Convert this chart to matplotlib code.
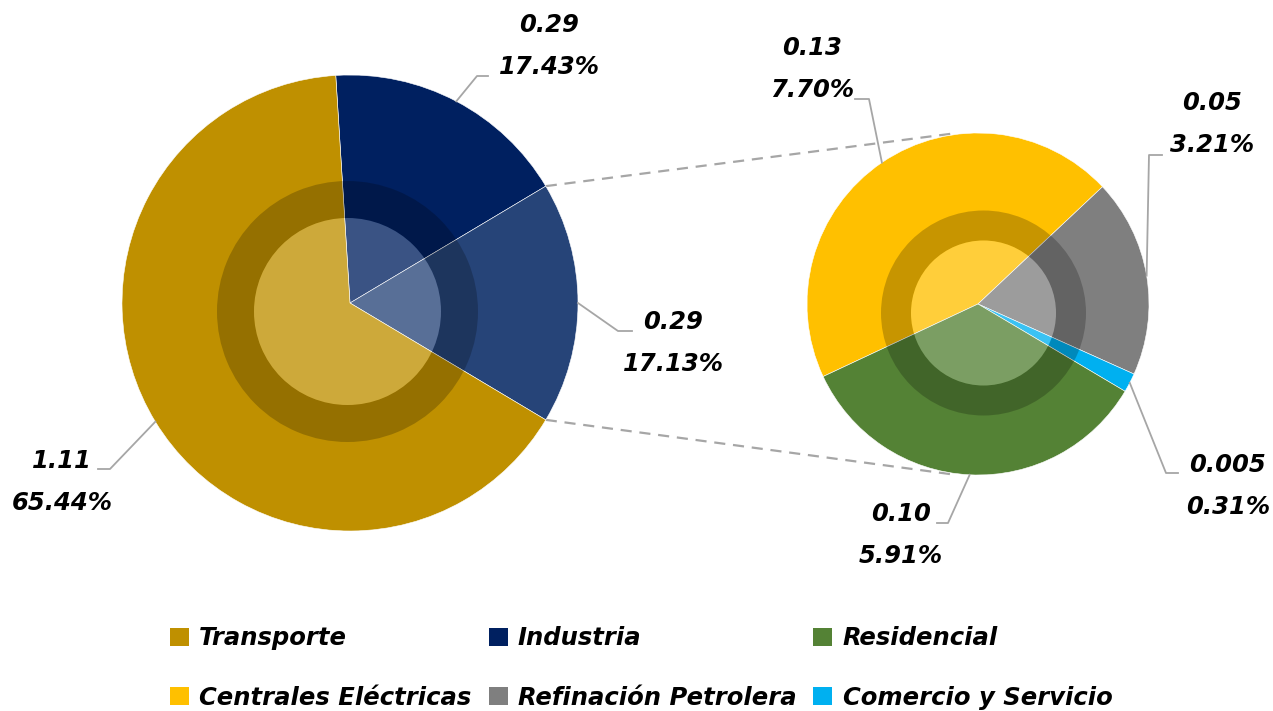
import matplotlib
matplotlib.use('Agg')
import matplotlib.pyplot as plt
import matplotlib.patches as mpatches
import numpy as np

plt.rcParams['font.family'] = 'DejaVu Sans'

# ── Data ──
main_labels = ['Transporte', 'Industria', 'Otros']
main_values = [1.11, 0.29, 0.29]
main_pct = [65.44, 17.43, 17.13]
main_colors = ['#BF9000', '#002060', '#264478']

sub_labels = ['Centrales Eléctricas', 'Refinación Petrolera', 'Comercio y Servicio', 'Residencial']
sub_values = [0.13, 0.05, 0.005, 0.10]
sub_pct = [7.70, 3.21, 0.31, 5.91]
sub_colors = ['#FFC000', '#7F7F7F', '#00B0F0', '#548235']

legend_order = ['Transporte', 'Industria', 'Residencial',
                'Centrales Eléctricas', 'Refinación Petrolera', 'Comercio y Servicio']

W, H = 1273, 711
fig = plt.figure(figsize=(W / 100, H / 100), dpi=100)
ax = fig.add_axes([0, 0, 1, 1])


def P(x, y):
    # pixel coords (top-left origin) -> data coords
    return (x, H - y)


def fmt_val(v):
    return f'{v:.3f}' if v < 0.01 else f'{v:.2f}'


line_gray = '#A6A6A6'
fs = 17.5
lbl_kw = dict(fontsize=fs, fontweight='bold', style='italic', ha='center', va='center')

# ── Left pie (Industria, Otros, Transporte clockwise, Otros centred on 0°) ──
c1, r1 = P(350, 303), 228
order1 = [1, 2, 0]
start1 = main_pct[2] / sum(main_pct) * 360 / 2 + main_pct[1] / sum(main_pct) * 360
w1, _ = ax.pie([main_pct[i] for i in order1], colors=[main_colors[i] for i in order1],
               center=c1, radius=r1, startangle=start1, counterclock=False,
               wedgeprops=dict(edgecolor='white', linewidth=0.4))

# ── Right pie ──
c2, r2 = P(978, 304), 171
w2, _ = ax.pie(sub_pct, colors=sub_colors, center=c2, radius=r2, startangle=205.1,
               counterclock=False, wedgeprops=dict(edgecolor='white', linewidth=0.4))

# bevel-ish overlays
for cen, ro, ri in [(P(347.5, 311.5), 130.5, 93.5), (P(983.5, 313), 102.5, 72.5)]:
    ax.add_patch(mpatches.Wedge(cen, ro, 0, 360, width=ro - ri, facecolor='black',
                                alpha=0.22, edgecolor='none'))
    ax.add_patch(mpatches.Circle(cen, ri, facecolor='white', alpha=0.23, edgecolor='none'))

# ── Connector lines between pies ──
t_other = np.deg2rad([w1[1].theta2, w1[1].theta1])   # upper edge, lower edge
for t, yy in zip(t_other, [c2[1] + r2, c2[1] - r2]):
    x0 = c1[0] + r1 * np.cos(t)
    y0 = c1[1] + r1 * np.sin(t)
    ax.plot([x0, 957], [y0, yy], color=line_gray, lw=1.6, dashes=(5, 3.5), zorder=0)

# ── Data labels with leader lines ──
# (wedge, centre, radius, elbow px, end px, label centre px, value, pct)
labels_cfg = [
    (w1[0], c1, r1, (477, 76), (488, 76), (549, 46), main_values[1], main_pct[1]),
    (w1[1], c1, r1, (618, 331), (632, 331), (673, 343), main_values[2], main_pct[2]),
    (w1[2], c1, r1, (110, 469), (98, 469), (62, 482), main_values[0], main_pct[0]),
    (w2[0], c2, r2, (869, 99), (855, 99), (812, 69), sub_values[0], sub_pct[0]),
    (w2[1], c2, r2, (1149, 155), (1162, 155), (1212, 124), sub_values[1], sub_pct[1]),
    (w2[2], c2, r2, (1166, 473), (1178, 473), (1228, 486), sub_values[2], sub_pct[2]),
    (w2[3], c2, r2, (948, 523), (937, 523), (901, 535), sub_values[3], sub_pct[3]),
]
for w, cen, r, elb, end, lc, v, p in labels_cfg:
    mid = np.deg2rad((w.theta1 + w.theta2) / 2)
    sx, sy = cen[0] + r * np.cos(mid), cen[1] + r * np.sin(mid)
    ex, ey = P(*elb)
    fx, fy = P(*end)
    ax.plot([sx, ex, fx], [sy, ey, fy], color=line_gray, lw=1.3, zorder=1)
    lx, ly = P(*lc)
    ax.text(lx, ly, f'{fmt_val(v)}\n{p:.2f}%', linespacing=1.95, **lbl_kw)

# ── Legend ──
color_map = dict(zip(main_labels + sub_labels, main_colors + sub_colors))
# matplotlib fills legend column-wise -> reorder for row-wise reading
handles = []
for col in range(3):
    for row in range(2):
        name = legend_order[row * 3 + col]
        handles.append(mpatches.Patch(facecolor=color_map[name], edgecolor='none', label=name))
leg = ax.legend(handles=handles, loc='center left', bbox_to_anchor=(158 / W, 1 - 668 / H),
                bbox_transform=fig.transFigure, ncol=3, frameon=False,
                prop=dict(size=fs, weight='bold', style='italic'),
                handlelength=0.78, handleheight=0.78, handletextpad=0.42,
                columnspacing=0.7, labelspacing=1.45, borderpad=0)

ax.set_xlim(0, W)
ax.set_ylim(0, H)
ax.set_aspect('equal')
ax.axis('off')

fig.savefig('out.png', dpi=100, facecolor='white')
plt.close()
